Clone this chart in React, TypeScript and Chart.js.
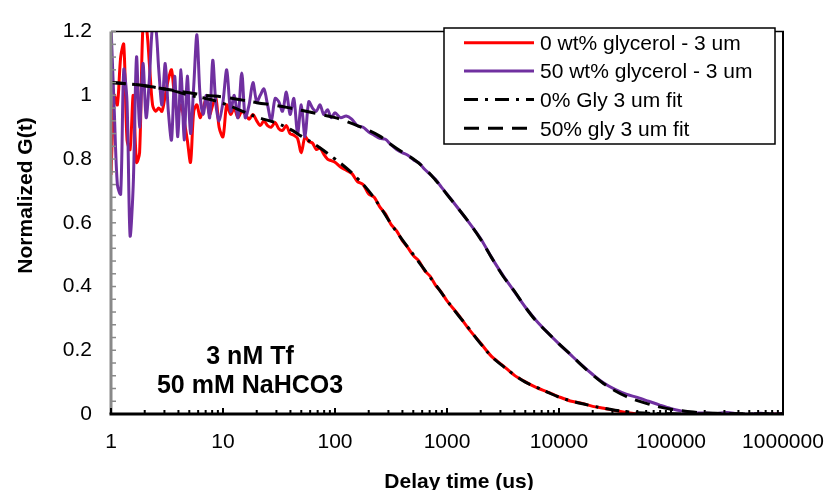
import React, { useEffect, useRef } from "react";
import { Chart, registerables } from "chart.js";

Chart.register(...registerables);

// ---- data ----
const dataTime = [
  1, 1.07, 1.14, 1.22, 1.3, 1.39, 1.48, 1.58, 1.69, 1.8, 1.93, 2.06, 2.2, 2.35, 2.5, 2.67, 2.85, 3.05, 3.25, 3.47,
  3.7, 3.95, 4.22, 4.5, 4.8, 5.13, 5.48, 5.85, 6.24, 6.66, 7.1, 7.6, 8.1, 8.65, 9.23,
  10, 10.8, 11.7, 12.6, 13.6, 14.7, 15.8, 17.1, 18.5, 20, 21.5, 23.2, 25, 27, 29.2, 31.5, 34, 36.8, 39.7, 42.9,
  46.3, 50, 54, 58.3, 63, 68, 73.5, 79.4, 85.7, 92.6,
  100, 112, 126, 141, 158, 178, 200, 224, 251, 282, 316, 355, 398, 447, 501, 562, 631, 708, 794, 891,
  1000, 1260, 1580, 2000, 2510, 3160, 3980, 5010, 6310, 7940, 10000, 12600, 15800, 20000, 25100, 31600, 39800,
  50100, 63100, 79400, 100000, 126000, 158000, 200000, 251000, 316000, 398000, 501000, 631000, 794000, 1000000,
];

const gly0Data = [
  0.75, 1.0, 0.97, 1.12, 1.16, 0.86, 0.83, 1.0, 0.79, 0.82, 1.22, 1.22, 1.1, 0.97, 0.95, 0.96, 0.95, 1.0, 1.05, 1.08,
  0.99, 0.94, 0.97, 0.92, 0.86, 0.79, 0.95, 0.97, 0.93, 0.96, 0.99, 0.94, 0.97, 0.99, 0.9,
  0.87, 0.97, 0.94, 0.96, 0.93, 0.95, 0.94, 0.925, 0.94, 0.92, 0.905, 0.92, 0.905, 0.9, 0.915, 0.895, 0.89, 0.905,
  0.88, 0.875, 0.865, 0.82, 0.87, 0.855, 0.85, 0.83, 0.835, 0.815, 0.8, 0.795,
  0.79, 0.775, 0.765, 0.755, 0.73, 0.72, 0.69, 0.68, 0.65, 0.628, 0.595, 0.575, 0.545, 0.522, 0.497, 0.48, 0.45,
  0.432, 0.403, 0.382,
  0.355, 0.312, 0.265, 0.222, 0.18, 0.152, 0.122, 0.101, 0.083, 0.069, 0.054, 0.041, 0.034, 0.024, 0.018, 0.011,
  0.005, 0.0, -0.004, -0.003, -0.006, -0.007, -0.006, -0.005, -0.004, -0.003, -0.004, -0.003, -0.002, -0.001, 0.001,
];

const gly50Data = [
  1.22, 0.95, 0.72, 0.69, 1.08, 0.98, 0.56, 0.72, 1.12, 0.9, 1.1, 0.93, 1.05, 1.22, 1.22, 1.08, 0.97, 1.1, 0.95, 0.86,
  1.06, 0.87, 1.08, 0.86, 1.06, 0.88, 1.03, 1.19, 1.0, 0.94, 1.0, 0.93, 1.11, 0.97, 0.92,
  0.98, 1.08, 0.95, 1.0, 0.93, 1.07, 0.93, 0.97, 1.04, 0.98, 1.0, 1.02, 0.97, 0.92, 0.99, 0.98, 0.95, 1.01, 0.94,
  0.99, 0.88, 0.97, 0.87, 0.98, 0.96, 0.95, 0.97, 0.94, 0.955, 0.93,
  0.945, 0.93, 0.935, 0.925, 0.905, 0.9, 0.885, 0.875, 0.865, 0.862, 0.845, 0.83, 0.82, 0.812, 0.798, 0.788, 0.768,
  0.752, 0.735, 0.712,
  0.69, 0.645, 0.6, 0.55, 0.49, 0.435, 0.385, 0.335, 0.292, 0.255, 0.22, 0.187, 0.155, 0.124, 0.097, 0.077, 0.062,
  0.052, 0.04, 0.028, 0.017, 0.009, 0.004, 0.003, 0.001, 0.005, 0.0, -0.001, 0.002, 0.0, 0.001,
];

const fitTime = [
  1, 1.5, 2, 3, 4, 5, 7, 10, 15, 20, 30, 40, 50, 70, 100, 126, 158, 200, 251, 316, 398, 501, 631, 794,
  1000, 1260, 1580, 2000, 2510, 3160, 3980, 5010, 6310, 7940, 10000, 12600, 15800, 20000, 25100, 31600, 39800,
  50100, 63100, 79400, 100000, 158000, 251000, 398000, 631000, 1000000,
];

const fit0 = [
  1.04, 1.035, 1.03, 1.02, 1.01, 1.0, 0.99, 0.975, 0.95, 0.932, 0.913, 0.893, 0.872, 0.84, 0.8, 0.772, 0.74, 0.7,
  0.652, 0.597, 0.547, 0.5, 0.452, 0.405,
  0.356, 0.31, 0.267, 0.22, 0.18, 0.15, 0.123, 0.1, 0.084, 0.068, 0.053, 0.042, 0.033, 0.025, 0.018, 0.012, 0.007,
  0.004, 0.002, 0.001, 0.0005, 0, 0, 0, 0, 0,
];

const fit50 = [
  1.04, 1.035, 1.03, 1.02, 1.013, 1.008, 1.0, 0.995, 0.985, 0.977, 0.968, 0.96, 0.953, 0.942, 0.93, 0.918, 0.905,
  0.89, 0.872, 0.846, 0.822, 0.8, 0.771, 0.733,
  0.689, 0.645, 0.6, 0.548, 0.49, 0.433, 0.386, 0.335, 0.29, 0.255, 0.22, 0.188, 0.154, 0.122, 0.095, 0.073, 0.055,
  0.042, 0.031, 0.022, 0.015, 0.006, 0.002, 0.0005, 0, 0,
];

const yTickValues = [0, 0.2, 0.4, 0.6, 0.8, 1, 1.2];
const yMinorStep = 0.04;
const xTickValues = [1, 10, 100, 1000, 10000, 100000, 1000000];
const xTickLabels = ["1", "10", "100", "1000", "10000", "100000", "1000000"];
const xMinorMultipliers = [2, 3, 4, 5, 6, 7, 8, 9];

const seriesLabels = [
  "0 wt% glycerol - 3 um",
  "50 wt% glycerol - 3 um",
  "0% Gly 3 um fit",
  "50% gly 3 um fit",
];
const annotationLines = ["3 nM Tf", "50 mM NaHCO3"];
const xTitle = "Delay time (us)";
const yTitle = "Normalized G(t)";

// ---- styles ----
const FONT = "'Liberation Sans', Arial, sans-serif";
const RED = "#FF0000";
const PURPLE = "#7030A0";
const AXIS_GRAY = "#898989";
const DASH_DOT = [14, 7, 3, 7];
const DASHED = [15, 9];

const seriesStyles = [
  { color: RED, dash: [] as number[] },
  { color: PURPLE, dash: [] as number[] },
  { color: "#000", dash: DASH_DOT },
  { color: "#000", dash: DASHED },
];

function seg(ctx: CanvasRenderingContext2D, x1: number, y1: number, x2: number, y2: number) {
  ctx.beginPath();
  ctx.moveTo(x1, y1);
  ctx.lineTo(x2, y2);
  ctx.stroke();
}

const framePlugin = {
  id: "excelFrame",
  afterDatasetsDraw(chart: any) {
    const { ctx, chartArea: a, scales } = chart;
    const xs = scales.x;
    const ys = scales.y;
    ctx.save();
    ctx.setLineDash([]);
    // top & right border
    ctx.strokeStyle = "#000";
    ctx.lineWidth = 1.5;
    seg(ctx, a.left, a.top, a.right + 1, a.top);
    ctx.lineWidth = 2;
    seg(ctx, a.right, a.top, a.right, a.bottom);
    // y minor ticks (inside)
    ctx.strokeStyle = AXIS_GRAY;
    ctx.lineWidth = 1.5;
    const nMinor = Math.round((ys.max - ys.min) / yMinorStep);
    for (let i = 0; i <= nMinor; i++) {
      const py = ys.getPixelForValue(ys.min + i * yMinorStep);
      seg(ctx, a.left, py, a.left + 5, py);
    }
    // y axis line
    ctx.lineWidth = 3;
    seg(ctx, a.left, a.top, a.left, a.bottom);
    // x ticks (inside)
    ctx.strokeStyle = "#000";
    ctx.lineWidth = 2;
    xTickValues.forEach((v, i) => {
      const px = xs.getPixelForValue(v);
      seg(ctx, px, a.bottom, px, a.bottom - 6);
      if (i < xTickValues.length - 1) {
        xMinorMultipliers.forEach((m) => {
          const pm = xs.getPixelForValue(v * m);
          seg(ctx, pm, a.bottom, pm, a.bottom - 4);
        });
      }
    });
    // x axis line
    ctx.lineWidth = 3;
    seg(ctx, a.left - 1.5, a.bottom, a.right + 1, a.bottom);
    ctx.restore();
  },
  afterDraw(chart: any) {
    const { ctx, scales } = chart;
    const xs = scales.x;
    ctx.save();
    ctx.fillStyle = "#000";
    // x tick labels
    ctx.font = `21px ${FONT}`;
    ctx.textAlign = "center";
    ctx.textBaseline = "alphabetic";
    xTickValues.forEach((v, i) => {
      ctx.fillText(xTickLabels[i], xs.getPixelForValue(v), 448);
    });
    // axis titles
    ctx.font = `bold 21px ${FONT}`;
    ctx.fillText(xTitle, 459, 488);
    ctx.save();
    ctx.translate(32, 195.5);
    ctx.rotate(-Math.PI / 2);
    ctx.fillText(yTitle, 0, 0);
    ctx.restore();

    // annotation
    ctx.font = `bold 25px ${FONT}`;
    ctx.fillText(annotationLines[0], 250, 364);
    ctx.fillText(annotationLines[1], 250, 393);

    // legend box
    const bx = 444, by = 28, bw = 331, bh = 116;
    ctx.fillStyle = "#fff";
    ctx.fillRect(bx, by, bw, bh);
    ctx.strokeStyle = "#000";
    ctx.lineWidth = 1.5;
    ctx.setLineDash([]);
    ctx.strokeRect(bx, by, bw, bh);
    const rowLine = [42.7, 71, 99.5, 128.3];
    const rowBase = [49.5, 78.3, 106.8, 135.7];
    ctx.font = `21px ${FONT}`;
    ctx.textAlign = "left";
    seriesLabels.forEach((lab, i) => {
      const st = seriesStyles[i];
      ctx.strokeStyle = st.color;
      ctx.lineWidth = 3;
      ctx.setLineDash(st.dash);
      seg(ctx, 464, rowLine[i], 534, rowLine[i]);
      ctx.setLineDash([]);
      ctx.fillStyle = "#000";
      ctx.fillText(lab, 540, rowBase[i]);
    });
    ctx.restore();
  },
};

export default function App() {
  const ref = useRef<HTMLCanvasElement | null>(null);

  useEffect(() => {
    if (!ref.current) return;
    const pts = (xsArr: number[], ysArr: number[]) => xsArr.map((x, i) => ({ x, y: ysArr[i] }));
    const chart = new Chart(ref.current, {
      type: "line",
      data: {
        datasets: [
          {
            label: seriesLabels[0],
            data: pts(dataTime, gly0Data),
            borderColor: RED,
            borderWidth: 3,
            pointRadius: 0,
            tension: 0.3,
            fill: false,
            order: 4,
          },
          {
            label: seriesLabels[1],
            data: pts(dataTime, gly50Data),
            borderColor: PURPLE,
            borderWidth: 3,
            pointRadius: 0,
            tension: 0.3,
            fill: false,
            order: 3,
          },
          {
            label: seriesLabels[2],
            data: pts(fitTime, fit0),
            borderColor: "#000",
            borderWidth: 3,
            borderDash: DASH_DOT,
            pointRadius: 0,
            tension: 0.4,
            fill: false,
            order: 2,
          },
          {
            label: seriesLabels[3],
            data: pts(fitTime, fit50),
            borderColor: "#000",
            borderWidth: 3,
            borderDash: DASHED,
            pointRadius: 0,
            tension: 0.4,
            fill: false,
            order: 1,
          },
        ],
      },
      options: {
        responsive: false,
        devicePixelRatio: 1,
        animation: false,
        events: [],
        layout: { padding: { top: 18, right: 42, bottom: 0, left: 0 } },
        plugins: { legend: { display: false }, tooltip: { enabled: false }, title: { display: false } },
        scales: {
          x: {
            type: "logarithmic",
            min: 1,
            max: 1000000,
            grid: { display: false, drawTicks: false },
            border: { display: false },
            ticks: { display: false },
            afterFit: (s: any) => {
              s.height = 76;
              s.paddingLeft = 0;
              s.paddingRight = 0;
            },
          },
          y: {
            type: "linear",
            min: 0,
            max: 1.2,
            grid: { display: false, drawTicks: false },
            border: { display: false },
            afterBuildTicks: (s: any) => {
              s.ticks = yTickValues.map((v) => ({ value: v }));
            },
            afterFit: (s: any) => {
              s.width = 111;
            },
            ticks: {
              padding: 19,
              color: "#000",
              font: { family: FONT, size: 21 },
              callback: (v: any) => String(Math.round(Number(v) * 10) / 10),
            },
          },
        },
      },
      plugins: [framePlugin],
    } as any);
    return () => chart.destroy();
  }, []);

  return (
    <div style={{ position: "absolute", left: 0, top: 0, width: 825, height: 490, background: "#fff" }}>
      <canvas ref={ref} width={825} height={490} style={{ width: 825, height: 490, display: "block" }} />
    </div>
  );
}
